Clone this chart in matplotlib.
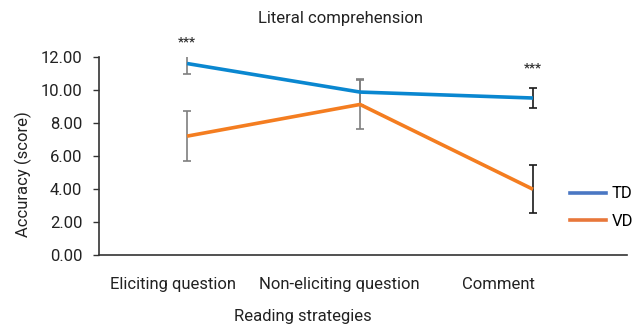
import matplotlib
matplotlib.use("Agg")
import matplotlib.pyplot as plt
import matplotlib.transforms as mtransforms
from matplotlib.lines import Line2D

strategies = ["Eliciting question", "Non-eliciting question", "Comment"]
td_mean = [11.60, 9.87, 9.51]
td_err = [0.64, 0.79, 0.62]
vd_mean = [7.20, 9.12, 3.98]
vd_err = [1.50, 1.48, 1.46]
td_err_color = ["#7f7f7f", "#7f7f7f", "#1a1a1a"]
vd_err_color = ["#7f7f7f", "#7f7f7f", "#1a1a1a"]
signif = ["***", "", "***"]
yticks = [0, 2, 4, 6, 8, 10, 12]

FONT = ["Liberation Sans Narrow", "Roboto", "DejaVu Sans"]
plt.rcParams["font.family"] = FONT
FS = 12

fig = plt.figure(figsize=(6.43, 3.29), dpi=100)
ax = fig.add_axes([0.154, 0.225, 0.821, 0.602])

x = list(range(len(strategies)))

for i in x:
    ax.errorbar(i, td_mean[i], yerr=td_err[i], fmt="none", ecolor=td_err_color[i],
                elinewidth=1.2, capsize=3, capthick=1.2, zorder=2)
    ax.errorbar(i, vd_mean[i], yerr=vd_err[i], fmt="none", ecolor=vd_err_color[i],
                elinewidth=1.2, capsize=3, capthick=1.2, zorder=2)

ax.plot(x, td_mean, color="#0a87d0", lw=2.6, zorder=3, solid_capstyle="butt")
ax.plot(x, vd_mean, color="#f47d20", lw=2.6, zorder=3, solid_capstyle="butt")

# significance marks above the TD error bars
star_pad = [6, 0, 10]
for i, s in enumerate(signif):
    if s:
        ax.annotate(s, (i, min(td_mean[i] + td_err[i], 12)), xytext=(0, star_pad[i]),
                    textcoords="offset points", ha="center", va="bottom",
                    fontsize=9.5, fontweight="bold", color="#333333",
                    annotation_clip=False)

ax.set_xlim(-0.509, 2.543)
ax.set_ylim(0, 12)
ax.set_yticks(yticks)
ax.set_yticklabels([f"{v:.2f}" for v in yticks], fontsize=FS, color="#222222")
ax.set_xticks(x)
ax.set_xticklabels(strategies, fontsize=FS, color="#222222")
ax.tick_params(axis="x", length=0, pad=16)
ax.tick_params(axis="y", length=4, width=1, color="#333333", pad=8)

# nudge category labels the way the original layout sits
label_shift = [-14, -21, -35]
for lab, dx in zip(ax.get_xticklabels(), label_shift):
    lab.set_transform(lab.get_transform() +
                      mtransforms.ScaledTranslation(dx / 100, 0, fig.dpi_scale_trans))

for side in ["top", "right"]:
    ax.spines[side].set_visible(False)
for side in ["left", "bottom"]:
    ax.spines[side].set_color("#333333")
    ax.spines[side].set_linewidth(1.2)

fig.text(0.529, 0.945, "Literal comprehension", ha="center", va="center",
         fontsize=FS, color="#222222")
fig.text(0.471, 0.038, "Reading strategies", ha="center", va="center",
         fontsize=FS, color="#222222")
fig.text(0.036, 0.47, "Accuracy (score)", ha="center", va="center",
         rotation=90, fontsize=FS, color="#222222")

handles = [Line2D([], [], color="#4a77c3", lw=2.6),
           Line2D([], [], color="#e8773a", lw=2.6)]
fig.legend(handles, ["TD", "VD"], loc="center left", bbox_to_anchor=(0.886, 0.369),
           frameon=False, fontsize=FS, handlelength=2.2, handletextpad=0.3,
           labelspacing=0.75, borderpad=0, borderaxespad=0)

fig.savefig("out.png", dpi=100)
